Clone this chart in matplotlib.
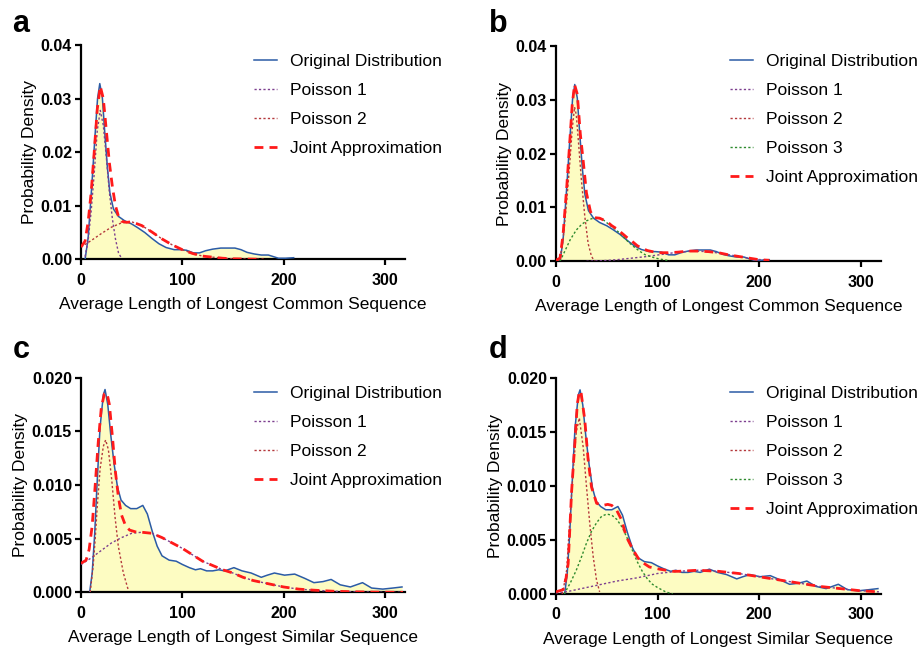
import matplotlib
matplotlib.use('Agg')
import matplotlib.pyplot as plt
from matplotlib.ticker import FormatStrFormatter

plt.rcParams['font.family'] = ['Liberation Sans', 'DejaVu Sans']

# ---- original distributions ----
common_x = [4, 7, 10.5, 13.7, 16.3, 18.5, 21, 23.5, 26, 28.5, 32, 37, 43, 50, 56, 63, 70, 77, 84, 92,
            98, 104, 111, 117, 123, 130, 138, 145, 152, 158, 164, 171, 178, 185, 190, 195, 202, 210]
common_y = [0, 0.0040, 0.0135, 0.0228, 0.0300, 0.0328, 0.0303, 0.0235, 0.0172, 0.0124, 0.0094, 0.0080,
            0.0072, 0.0066, 0.0059, 0.0050, 0.0039, 0.0029, 0.0022, 0.0018, 0.0018, 0.0017, 0.0012,
            0.0012, 0.0016, 0.0019, 0.0021, 0.0021, 0.0021, 0.0018, 0.0013, 0.0010, 0.0008, 0.0008,
            0.0005, 0.0002, 0.0002, 0.0003]

similar_x = [8.5, 11, 13.5, 15.5, 18.7, 22, 23.7, 26.4, 29.3, 32.6, 36, 39.5, 44, 49, 55, 61, 65.5,
             70.3, 75.2, 80, 87, 94, 100, 107, 113, 118, 124, 130, 136, 142, 151, 159, 168, 178, 184,
             191, 201, 211, 221, 230, 239, 247, 256, 266, 272, 278, 287, 298, 308, 317]
similar_y = [0, 0.0018, 0.0055, 0.0095, 0.0153, 0.0184, 0.0189, 0.0175, 0.0147, 0.0120, 0.0098,
             0.0086, 0.0081, 0.0078, 0.0078, 0.0081, 0.0073, 0.0057, 0.0043, 0.0034, 0.0030, 0.0029,
             0.0026, 0.0023, 0.0021, 0.0022, 0.0020, 0.0020, 0.0021, 0.0020, 0.0023, 0.0020, 0.0018,
             0.0014, 0.0016, 0.0018, 0.0016, 0.0017, 0.0013, 0.0009, 0.0010, 0.0012, 0.0007, 0.0005,
             0.0007, 0.0009, 0.0004, 0.0003, 0.0004, 0.0005]

# ---- panel a ----
a_p1_x = [4, 7, 10, 13, 16, 19, 22, 25, 28, 31, 34, 37, 40]
a_p1_y = [0.0005, 0.0035, 0.0090, 0.0160, 0.0240, 0.0278, 0.0250, 0.0190, 0.0125, 0.0075, 0.0038, 0.0012, 0.0002]
a_p2_x = [0, 10, 20, 30, 40, 50, 60, 70, 80, 90, 100, 110, 120, 130, 140, 150, 165, 180]
a_p2_y = [0.0023, 0.0035, 0.0048, 0.0060, 0.0068, 0.0070, 0.0063, 0.0051, 0.0038, 0.0027, 0.0018,
          0.0011, 0.0006, 0.0004, 0.0002, 0.0001, 0.00005, 0]
a_joint_x = [0, 4, 7, 10, 13, 16, 19, 22, 25, 28, 31, 34, 37, 40, 45, 50, 60, 70, 80, 90, 100, 110,
             120, 130, 140, 150, 165, 180]
a_joint_y = [0.0023, 0.0034, 0.0070, 0.0125, 0.0200, 0.0280, 0.0323, 0.0300, 0.0240, 0.0180, 0.0135,
             0.0100, 0.0080, 0.0071, 0.0069, 0.0070, 0.0063, 0.0051, 0.0038, 0.0027, 0.0018, 0.0011,
             0.0006, 0.0004, 0.0002, 0.0001, 0.00005, 0]

# ---- panel b ----
b_p1_x = [30, 45, 60, 75, 90, 105, 120, 135, 150, 165, 180, 195, 210]
b_p1_y = [0, 0.0001, 0.0003, 0.0006, 0.0009, 0.0013, 0.0017, 0.0019, 0.0018, 0.0014, 0.0009, 0.0004, 0.0002]
b_p2_x = [2, 4, 7, 10.5, 13.7, 16, 18.3, 20, 22, 25, 28.4, 31.7, 35, 38.2]
b_p2_y = [0, 0.0006, 0.0040, 0.0110, 0.0185, 0.0245, 0.0286, 0.0272, 0.0225, 0.0152, 0.0083, 0.0033, 0.0009, 0]
b_p3_x = [4, 10, 14, 20, 25, 30, 35, 40, 46, 53, 58, 63, 68, 73, 78, 83, 88, 93, 98, 103, 112]
b_p3_y = [0, 0.0024, 0.0040, 0.0058, 0.0068, 0.0075, 0.0079, 0.0081, 0.0078, 0.0067, 0.0060, 0.0052,
          0.0042, 0.0033, 0.0025, 0.0018, 0.0012, 0.0009, 0.0006, 0.0004, 0.0001]
b_joint_x = [0, 4, 7, 10.5, 13.7, 16, 18.3, 21, 24, 27, 30, 34, 38, 43, 50, 55, 60, 65, 70, 75, 80, 85,
             90, 100, 110, 120, 130, 140, 150, 160, 170, 180, 190, 200, 210]
b_joint_y = [0.0002, 0.0006, 0.0050, 0.0135, 0.0225, 0.0290, 0.0328, 0.0310, 0.0236, 0.0183, 0.0127,
             0.0092, 0.0081, 0.0080, 0.0074, 0.0066, 0.0060, 0.0052, 0.0044, 0.0037, 0.0029, 0.0024,
             0.0020, 0.0016, 0.0016, 0.0017, 0.0019, 0.0019, 0.0018, 0.0016, 0.0012, 0.0009, 0.0006,
             0.0003, 0.0002]

# ---- panel c ----
c_p1_x = [0, 10, 20, 30, 40, 50, 60, 70, 80, 90, 100, 110, 120, 130, 140, 150, 160, 170, 180, 190,
          200, 215, 230, 250, 270, 290, 318]
c_p1_y = [0.0026, 0.0032, 0.0039, 0.0046, 0.0051, 0.0055, 0.0056, 0.0055, 0.0051, 0.0046, 0.0041,
          0.0035, 0.0029, 0.0025, 0.0021, 0.0018, 0.0014, 0.0011, 0.0009, 0.0007, 0.0005, 0.0003,
          0.0002, 0.0001, 0.00005, 0.00002, 0]
c_p2_x = [9, 12, 14, 16, 18.8, 22, 24.3, 27, 30.3, 33.6, 36.8, 41.8, 46.7]
c_p2_y = [0, 0.0025, 0.0050, 0.0080, 0.0115, 0.0136, 0.0142, 0.0133, 0.0105, 0.0070, 0.0043, 0.0018, 0.0002]
c_joint_x = [0, 5, 8, 11, 14, 17, 20, 23, 25.5, 28, 31, 34, 37, 40, 44, 48, 55, 60, 70, 80, 90, 100,
             110, 120, 130, 140, 150, 160, 170, 180, 190, 200, 215, 230, 250, 270, 290, 318]
c_joint_y = [0.0027, 0.0030, 0.0040, 0.0062, 0.0100, 0.0140, 0.0172, 0.0185, 0.0186, 0.0175, 0.0145,
             0.0112, 0.0088, 0.0072, 0.0062, 0.0058, 0.0056, 0.0056, 0.0055, 0.0051, 0.0046, 0.0041,
             0.0035, 0.0029, 0.0025, 0.0021, 0.0018, 0.0014, 0.0011, 0.0009, 0.0007, 0.0005, 0.0003,
             0.0002, 0.0001, 0.00005, 0.00002, 0]

# ---- panel d ----
d_p1_x = [0, 10, 20, 40, 60, 80, 100, 120, 140, 160, 180, 200, 220, 240, 260, 280, 300, 318]
d_p1_y = [0.0001, 0.0002, 0.0004, 0.0008, 0.0012, 0.0015, 0.0019, 0.0021, 0.0022, 0.0021, 0.0019,
          0.0016, 0.0013, 0.0010, 0.0007, 0.0005, 0.0003, 0.0002]
d_p2_x = [6, 7.2, 10.5, 13.7, 17, 20, 23, 26.8, 30.1, 33.3, 36.6, 39.9, 43]
d_p2_y = [0, 0.0004, 0.0022, 0.0069, 0.0115, 0.0150, 0.0163, 0.0136, 0.0099, 0.0065, 0.0035, 0.0013, 0.0002]
d_p3_x = [8, 14, 20, 25, 30, 35, 40, 45, 50, 55, 60, 65, 70, 75, 80, 85, 90, 95, 100, 108, 115]
d_p3_y = [0, 0.0010, 0.0022, 0.0034, 0.0047, 0.0058, 0.0066, 0.0072, 0.0074, 0.0073, 0.0069, 0.0062,
          0.0052, 0.0041, 0.0030, 0.0021, 0.0014, 0.0009, 0.0006, 0.0002, 0]
d_joint_x = [0, 7, 10, 12, 15.4, 18.6, 21, 23, 24.5, 28.4, 31.7, 35, 40, 46, 51, 55, 59.5, 64.4, 69.3,
             75.8, 82.4, 92, 102, 115, 120, 140, 160, 180, 200, 220, 240, 260, 280, 300, 318]
d_joint_y = [0.0002, 0.0004, 0.0015, 0.0028, 0.0095, 0.0140, 0.0176, 0.0187, 0.0188, 0.0161, 0.0124,
             0.0099, 0.0084, 0.0082, 0.0083, 0.0082, 0.0078, 0.0069, 0.0053, 0.0041, 0.0031, 0.0025,
             0.0023, 0.0021, 0.0021, 0.0022, 0.0021, 0.0019, 0.0016, 0.0013, 0.0010, 0.0007, 0.0005,
             0.0003, 0.0002]

BLUE = '#2b5ba5'
FILL = '#fdfcc2'
PURPLE = '#7d3f8f'
BROWN = '#b4383c'
GREEN = '#2e8a2e'
RED = '#ff1a1a'
DOT = (0, (1.6, 1.6))


def panel(ax, ox, oy, poissons, jx, jy, ymax, ystep, yfmt, xlabel, anchor):
    ax.fill_between(ox, oy, 0, color=FILL, lw=0, zorder=1)
    ax.plot(ox, oy, color=BLUE, lw=1.1, label='Original Distribution', zorder=3)
    colors = [PURPLE, BROWN, GREEN]
    for i, (px, py) in enumerate(poissons):
        ax.plot(px, py, color=colors[i], lw=1.0, linestyle=DOT, label=f'Poisson {i + 1}', zorder=4)
    ax.plot(jx, jy, color=RED, lw=2.0, dashes=(3.2, 2.2), label='Joint Approximation', zorder=5)

    ax.set_xlim(0, 320)
    ax.set_ylim(0, ymax)
    ax.set_xticks([0, 100, 200, 300])
    ax.set_yticks([ystep * k for k in range(5)])
    ax.yaxis.set_major_formatter(FormatStrFormatter(yfmt))
    for s in ['top', 'right']:
        ax.spines[s].set_visible(False)
    for s in ['left', 'bottom']:
        ax.spines[s].set_linewidth(1.6)
    ax.tick_params(direction='out', length=4.5, width=1.6, labelsize=11.5)
    ax.tick_params(axis='x', pad=5)
    ax.tick_params(axis='y', pad=2)
    for t in ax.get_xticklabels() + ax.get_yticklabels():
        t.set_fontweight('bold')
    ax.set_xlabel(xlabel, fontsize=12.5, labelpad=7)
    ax.set_ylabel('Probability Density', fontsize=12.5, labelpad=3)
    ax.legend(loc='upper left', bbox_to_anchor=anchor, bbox_transform=ax.figure.transFigure,
              frameon=False, fontsize=12.5, handlelength=1.35, handletextpad=0.75,
              labelspacing=0.8, borderpad=0, borderaxespad=0)


fig = plt.figure(figsize=(9.22, 6.47), dpi=100)
ax_a = fig.add_axes([0.0879, 0.5992, 0.3514, 0.3312])
ax_b = fig.add_axes([0.6030, 0.5961, 0.3525, 0.3333])
ax_c = fig.add_axes([0.0879, 0.0845, 0.3514, 0.3317])
ax_d = fig.add_axes([0.6030, 0.0819, 0.3525, 0.3339])

panel(ax_a, common_x, common_y, [(a_p1_x, a_p1_y), (a_p2_x, a_p2_y)], a_joint_x, a_joint_y,
      0.04, 0.01, '%.2f', 'Average Length of Longest Common Sequence', (0.2755, 0.9172))
panel(ax_b, common_x, common_y, [(b_p1_x, b_p1_y), (b_p2_x, b_p2_y), (b_p3_x, b_p3_y)],
      b_joint_x, b_joint_y, 0.04, 0.01, '%.2f', 'Average Length of Longest Common Sequence',
      (0.7918, 0.9172))
panel(ax_c, similar_x, similar_y, [(c_p1_x, c_p1_y), (c_p2_x, c_p2_y)], c_joint_x, c_joint_y,
      0.02, 0.005, '%.3f', 'Average Length of Longest Similar Sequence', (0.2755, 0.4040))
panel(ax_d, similar_x, similar_y, [(d_p1_x, d_p1_y), (d_p2_x, d_p2_y), (d_p3_x, d_p3_y)],
      d_joint_x, d_joint_y, 0.02, 0.005, '%.3f', 'Average Length of Longest Similar Sequence',
      (0.7918, 0.4040))

for letter, x, y in [('a', 12, 32), ('b', 489, 32), ('c', 13, 358), ('d', 489, 358)]:
    fig.text(x / 922, 1 - y / 647, letter, fontsize=22, fontweight='bold', va='baseline')

fig.savefig('out.png', dpi=100)
